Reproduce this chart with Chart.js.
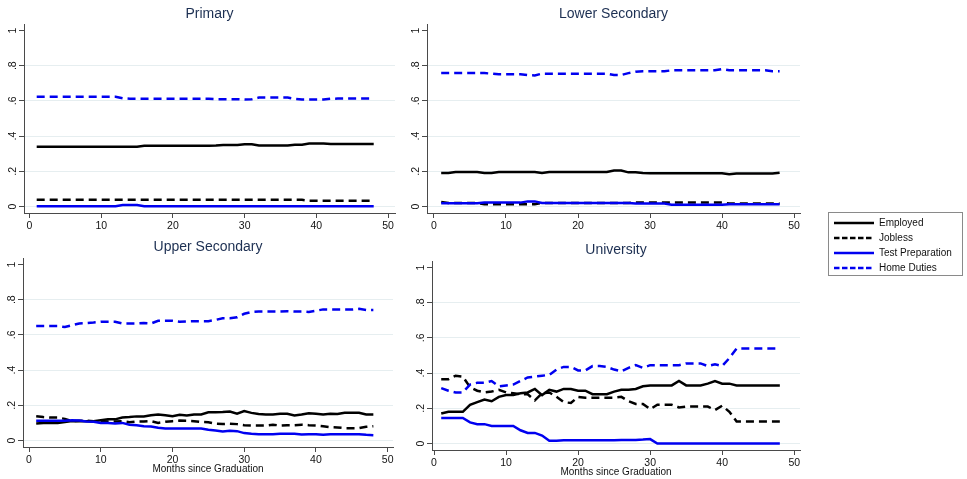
<!DOCTYPE html>
<html>
<head>
<meta charset="utf-8">
<script src="https://cdn.jsdelivr.net/npm/chart.js@4.4.1/dist/chart.umd.min.js"></script>
<style>
  body { margin: 0; background: #fff; }
  #wrap { position: relative; width: 967px; height: 479px; overflow: hidden; }
  #wrap canvas { position: absolute; }
  #legendBox { position: absolute; left: 828px; top: 212px; width: 133px; height: 62px; border: 1px solid #8a8a8a; overflow: hidden; }
  #legendBox canvas { position: absolute; left: 0; top: 0; }
</style>
</head>
<body>
<div id="wrap">
  <canvas id="p1" width="405" height="240" style="left:0px;top:0px"></canvas>
  <canvas id="p2" width="410" height="240" style="left:400px;top:0px"></canvas>
  <canvas id="p3" width="405" height="249" style="left:0px;top:230px"></canvas>
  <canvas id="p4" width="410" height="249" style="left:400px;top:230px"></canvas>
  <div id="legendBox"><canvas id="leg" width="300" height="100"></canvas></div>
</div>
<script>
// bulan sejak lulus
const months = [1, 2, 3, 4, 5, 6, 7, 8, 9, 10, 11, 12, 13, 14, 15, 16, 17, 18, 19, 20, 21, 22, 23, 24,
  25, 26, 27, 28, 29, 30, 31, 32, 33, 34, 35, 36, 37, 38, 39, 40, 41, 42, 43, 44, 45, 46, 47, 48];
const yTicks = [0, 0.2, 0.4, 0.6, 0.8, 1];
const xTicks = [0, 10, 20, 30, 40, 50];
const seriesNames = ['Employed', 'Jobless', 'Test Preparation', 'Home Duties'];

// Primary
const primEmp = [0.34, 0.34, 0.34, 0.34, 0.34, 0.34, 0.34, 0.34, 0.34, 0.34, 0.34, 0.34, 0.34, 0.34, 0.34, 0.345,
  0.345, 0.345, 0.345, 0.345, 0.345, 0.345, 0.345, 0.345, 0.345, 0.347, 0.35, 0.35, 0.35, 0.353, 0.353, 0.347,
  0.347, 0.347, 0.347, 0.347, 0.351, 0.351, 0.358, 0.358, 0.358, 0.355, 0.355, 0.355, 0.355, 0.355, 0.355, 0.355];
const primJob = [0.038, 0.038, 0.038, 0.038, 0.038, 0.038, 0.038, 0.038, 0.038, 0.038, 0.038, 0.038, 0.038, 0.038, 0.038, 0.038,
  0.038, 0.038, 0.038, 0.038, 0.038, 0.038, 0.038, 0.038, 0.038, 0.038, 0.038, 0.038, 0.038, 0.038, 0.038, 0.038,
  0.038, 0.038, 0.038, 0.038, 0.038, 0.038, 0.032, 0.032, 0.032, 0.032, 0.032, 0.032, 0.032, 0.032, 0.032, 0.032];
const primTest = [0.001, 0.001, 0.001, 0.001, 0.001, 0.001, 0.001, 0.001, 0.001, 0.001, 0.001, 0.001, 0.008, 0.009, 0.008, 0.001,
  0.001, 0.001, 0.001, 0.001, 0.001, 0.001, 0.001, 0.001, 0.001, 0.001, 0.001, 0.001, 0.001, 0.001, 0.001, 0.001,
  0.001, 0.001, 0.001, 0.001, 0.001, 0.001, 0.001, 0.001, 0.001, 0.001, 0.001, 0.001, 0.001, 0.001, 0.001, 0.001];
const primHome = [0.623, 0.623, 0.623, 0.623, 0.623, 0.623, 0.623, 0.623, 0.623, 0.623, 0.623, 0.623, 0.615, 0.612, 0.612, 0.612,
  0.612, 0.612, 0.612, 0.612, 0.612, 0.612, 0.612, 0.612, 0.612, 0.61, 0.61, 0.61, 0.61, 0.608, 0.609, 0.619,
  0.619, 0.619, 0.619, 0.619, 0.612, 0.608, 0.608, 0.608, 0.608, 0.612, 0.613, 0.613, 0.613, 0.613, 0.613, 0.613];

// Lower Secondary
const lowEmp = [0.19, 0.19, 0.196, 0.196, 0.196, 0.196, 0.19, 0.19, 0.196, 0.196, 0.196, 0.196, 0.196, 0.196, 0.19, 0.196,
  0.196, 0.196, 0.196, 0.196, 0.196, 0.196, 0.196, 0.196, 0.204, 0.204, 0.194, 0.194, 0.19, 0.189, 0.189, 0.189,
  0.189, 0.189, 0.189, 0.189, 0.189, 0.189, 0.189, 0.189, 0.183, 0.187, 0.187, 0.187, 0.187, 0.187, 0.187, 0.192];
const lowJob = [0.026, 0.02, 0.02, 0.02, 0.02, 0.02, 0.013, 0.013, 0.013, 0.013, 0.013, 0.013, 0.013, 0.013, 0.02, 0.02,
  0.02, 0.02, 0.02, 0.02, 0.02, 0.02, 0.02, 0.02, 0.02, 0.02, 0.02, 0.022, 0.022, 0.022, 0.022, 0.022,
  0.022, 0.022, 0.022, 0.022, 0.022, 0.022, 0.022, 0.022, 0.017, 0.017, 0.017, 0.017, 0.017, 0.017, 0.017, 0.017];
const lowTest = [0.019, 0.019, 0.019, 0.019, 0.019, 0.019, 0.022, 0.022, 0.022, 0.022, 0.022, 0.022, 0.029, 0.029, 0.02, 0.02,
  0.02, 0.02, 0.02, 0.02, 0.02, 0.02, 0.02, 0.02, 0.02, 0.02, 0.02, 0.017, 0.017, 0.017, 0.017, 0.017,
  0.01, 0.01, 0.01, 0.01, 0.01, 0.01, 0.01, 0.01, 0.013, 0.013, 0.013, 0.013, 0.013, 0.013, 0.013, 0.013];
const lowHome = [0.758, 0.758, 0.758, 0.758, 0.758, 0.758, 0.758, 0.755, 0.751, 0.751, 0.751, 0.751, 0.747, 0.745, 0.755, 0.755,
  0.755, 0.755, 0.755, 0.755, 0.755, 0.755, 0.755, 0.755, 0.747, 0.747, 0.758, 0.766, 0.768, 0.768, 0.768, 0.768,
  0.774, 0.774, 0.774, 0.774, 0.774, 0.774, 0.774, 0.781, 0.774, 0.774, 0.774, 0.774, 0.774, 0.774, 0.768, 0.768];

// Upper Secondary
const upEmp = [0.097, 0.1, 0.1, 0.1, 0.105, 0.11, 0.11, 0.11, 0.11, 0.115, 0.12, 0.12, 0.13, 0.133, 0.137, 0.137,
  0.144, 0.148, 0.144, 0.138, 0.146, 0.142, 0.148, 0.148, 0.16, 0.16, 0.162, 0.165, 0.152, 0.167, 0.157, 0.15,
  0.148, 0.148, 0.152, 0.152, 0.142, 0.148, 0.155, 0.152, 0.148, 0.152, 0.15, 0.157, 0.157, 0.157, 0.148, 0.148];
const upJob = [0.138, 0.133, 0.13, 0.13, 0.123, 0.11, 0.112, 0.112, 0.11, 0.108, 0.108, 0.108, 0.11, 0.104, 0.108, 0.108,
  0.11, 0.1, 0.106, 0.11, 0.113, 0.112, 0.11, 0.106, 0.104, 0.095, 0.093, 0.095, 0.093, 0.087, 0.085, 0.085,
  0.085, 0.09, 0.085, 0.087, 0.087, 0.09, 0.087, 0.085, 0.081, 0.076, 0.074, 0.07, 0.07, 0.07, 0.078, 0.081];
const upTest = [0.112, 0.112, 0.112, 0.112, 0.112, 0.115, 0.113, 0.108, 0.106, 0.1, 0.1, 0.097, 0.1, 0.09, 0.087, 0.081,
  0.08, 0.072, 0.068, 0.068, 0.068, 0.068, 0.068, 0.068, 0.061, 0.057, 0.051, 0.055, 0.053, 0.042, 0.038, 0.036,
  0.036, 0.036, 0.038, 0.038, 0.038, 0.034, 0.036, 0.036, 0.032, 0.036, 0.036, 0.036, 0.036, 0.036, 0.032, 0.03];
const upHome = [0.65, 0.65, 0.65, 0.65, 0.645, 0.655, 0.665, 0.667, 0.67, 0.675, 0.675, 0.675, 0.665, 0.665, 0.665, 0.667,
  0.665, 0.68, 0.68, 0.68, 0.675, 0.677, 0.678, 0.678, 0.678, 0.685, 0.695, 0.695, 0.7, 0.72, 0.73, 0.733,
  0.733, 0.733, 0.733, 0.735, 0.733, 0.733, 0.73, 0.737, 0.745, 0.745, 0.744, 0.744, 0.744, 0.748, 0.742, 0.742];

// University
const uniEmp = [0.17, 0.18, 0.18, 0.18, 0.22, 0.235, 0.25, 0.24, 0.265, 0.275, 0.275, 0.285, 0.29, 0.31, 0.275, 0.305,
  0.295, 0.31, 0.31, 0.3, 0.3, 0.28, 0.28, 0.28, 0.295, 0.305, 0.305, 0.31, 0.325, 0.33, 0.33, 0.33,
  0.33, 0.355, 0.33, 0.33, 0.33, 0.34, 0.355, 0.34, 0.34, 0.33, 0.33, 0.33, 0.33, 0.33, 0.33, 0.33];
const uniJob = [0.365, 0.365, 0.385, 0.38, 0.32, 0.3, 0.29, 0.295, 0.305, 0.29, 0.285, 0.28, 0.28, 0.245, 0.285, 0.29,
  0.265, 0.235, 0.23, 0.265, 0.26, 0.26, 0.26, 0.26, 0.26, 0.265, 0.24, 0.225, 0.225, 0.195, 0.22, 0.22,
  0.22, 0.205, 0.21, 0.21, 0.21, 0.21, 0.19, 0.215, 0.18, 0.125, 0.125, 0.125, 0.125, 0.125, 0.125, 0.125];
const uniTest = [0.145, 0.145, 0.145, 0.145, 0.12, 0.11, 0.11, 0.1, 0.1, 0.1, 0.1, 0.075, 0.06, 0.06, 0.045, 0.015,
  0.015, 0.018, 0.018, 0.018, 0.018, 0.018, 0.018, 0.018, 0.018, 0.02, 0.02, 0.02, 0.022, 0.025, 0, 0,
  0, 0, 0, 0, 0, 0, 0, 0, 0, 0, 0, 0, 0, 0, 0, 0];
const uniHome = [0.315, 0.3, 0.29, 0.29, 0.335, 0.345, 0.345, 0.355, 0.325, 0.33, 0.335, 0.355, 0.375, 0.38, 0.385, 0.39,
  0.42, 0.435, 0.435, 0.415, 0.415, 0.44, 0.44, 0.435, 0.42, 0.41, 0.43, 0.445, 0.43, 0.445, 0.445, 0.445,
  0.445, 0.445, 0.455, 0.455, 0.455, 0.44, 0.45, 0.44, 0.485, 0.54, 0.54, 0.54, 0.54, 0.54, 0.54, 0.54];

Chart.defaults.font.family = '"Liberation Sans", Arial, sans-serif';
Chart.defaults.color = '#111';

// gaya garis ala Stata
const gaya = [
  { color: '#000000', dash: [] },
  { color: '#000000', dash: [8, 5] },
  { color: '#0000f0', dash: [] },
  { color: '#0000f0', dash: [8, 5] }
];
const warnaSumbu = '#4a4a4a';
const warnaGrid = '#e6eef0';

function buatDataset(data, i) {
  return {
    label: seriesNames[i],
    data: data,
    borderColor: gaya[i].color,
    backgroundColor: gaya[i].color,
    borderDash: gaya[i].dash,
    borderWidth: 2.5,
    pointRadius: 0,
    tension: 0,
    order: 4 - i // garis biru di atas
  };
}

const panels = [
  { id: 'p1', title: 'Primary', series: [primEmp, primJob, primTest, primHome],
    yw: 24, xh: 27, padR: 10, tPad: { top: 5.6, bottom: 1.6 }, xMin: -0.77, xMax: 50.97, xTitle: false, xtPad: 0 },
  { id: 'p2', title: 'Lower Secondary', series: [lowEmp, lowJob, lowTest, lowHome],
    yw: 27, xh: 27, padR: 10, tPad: { top: 5.6, bottom: 1.6 }, xMin: -0.97, xMax: 50.83, xTitle: false, xtPad: 0 },
  { id: 'p3', title: 'Upper Secondary', series: [upEmp, upJob, upTest, upHome],
    yw: 23, xh: 32, padR: 12, tPad: { top: 8.6, bottom: 2.6 }, xMin: -0.84, xMax: 50.74, xTitle: true, xtPad: 4 },
  { id: 'p4', title: 'University', series: [uniEmp, uniJob, uniTest, uniHome],
    yw: 32, xh: 29, padR: 10, tPad: { top: 11.6, bottom: 2.6 }, xMin: -0.28, xMax: 50.8, xTitle: true, xtPad: 1 }
];

panels.forEach(function(p) {
  new Chart(document.getElementById(p.id).getContext('2d'), {
    type: 'line',
    data: {
      labels: months,
      datasets: p.series.map(buatDataset)
    },
    options: {
      responsive: false,
      animation: false,
      layout: { padding: { left: 0, right: p.padR, top: 0, bottom: 0 } },
      scales: {
        x: {
          type: 'linear',
          min: p.xMin,
          max: p.xMax,
          afterBuildTicks: function(s) { s.ticks = xTicks.map(function(v) { return { value: v }; }); },
          afterFit: function(s) { s.height = p.xh; },
          ticks: { maxRotation: 0, autoSkip: false, padding: 2, font: { size: 10.5 }, color: '#111' },
          grid: { drawOnChartArea: false, drawTicks: true, tickLength: 5, tickColor: warnaSumbu },
          border: { color: warnaSumbu, width: 1 },
          title: { display: p.xTitle, text: 'Months since Graduation', font: { size: 10 }, color: '#111', padding: { top: 0, bottom: p.xtPad } }
        },
        y: {
          min: -0.037,
          max: 1.037,
          afterBuildTicks: function(s) { s.ticks = yTicks.map(function(v) { return { value: v }; }); },
          afterFit: function(s) { s.width = p.yw; },
          ticks: {
            minRotation: 90,
            maxRotation: 90,
            crossAlign: 'center',
            padding: 2,
            font: { size: 10.5 },
            color: '#111',
            callback: function(value) {
              return String(value).replace('0.', '.');
            }
          },
          grid: {
            color: function(ctx) {
              return ctx.tick && ctx.tick.value === 1 ? 'rgba(0,0,0,0)' : warnaGrid;
            },
            tickLength: 5,
            tickColor: warnaSumbu
          },
          border: { color: warnaSumbu, width: 1 }
        }
      },
      plugins: {
        legend: { display: false },
        tooltip: { enabled: false },
        title: {
          display: true,
          text: p.title,
          fullSize: false,
          color: '#1c2f52',
          font: { size: 14, weight: 'normal' },
          padding: p.tPad
        }
      }
    }
  });
});

// Legenda terpisah (kotak di kanan)
new Chart(document.getElementById('leg').getContext('2d'), {
  type: 'line',
  data: {
    labels: [],
    datasets: [primEmp, primJob, primTest, primHome].map(function(d, i) {
      const ds = buatDataset([], i);
      delete ds.order;
      return ds;
    })
  },
  options: {
    responsive: false,
    animation: false,
    events: [],
    layout: { padding: 0 },
    scales: { x: { display: false }, y: { display: false } },
    plugins: {
      tooltip: { enabled: false },
      legend: {
        position: 'left',
        align: 'start',
        labels: {
          usePointStyle: true,
          pointStyle: 'line',
          pointStyleWidth: 40,
          boxHeight: 10,
          padding: 5,
          color: '#111',
          font: { size: 10 },
          generateLabels: function(chart) {
            const items = Chart.defaults.plugins.legend.labels.generateLabels(chart);
            return items.map(function(item) {
              const ds = chart.data.datasets[item.datasetIndex];
              item.lineDash = ds.borderDash.length ? [5.5, 2.5] : [];
              item.lineWidth = ds.borderWidth;
              item.strokeStyle = ds.borderColor;
              return item;
            });
          }
        }
      }
    }
  }
});
</script>
</body>
</html>
